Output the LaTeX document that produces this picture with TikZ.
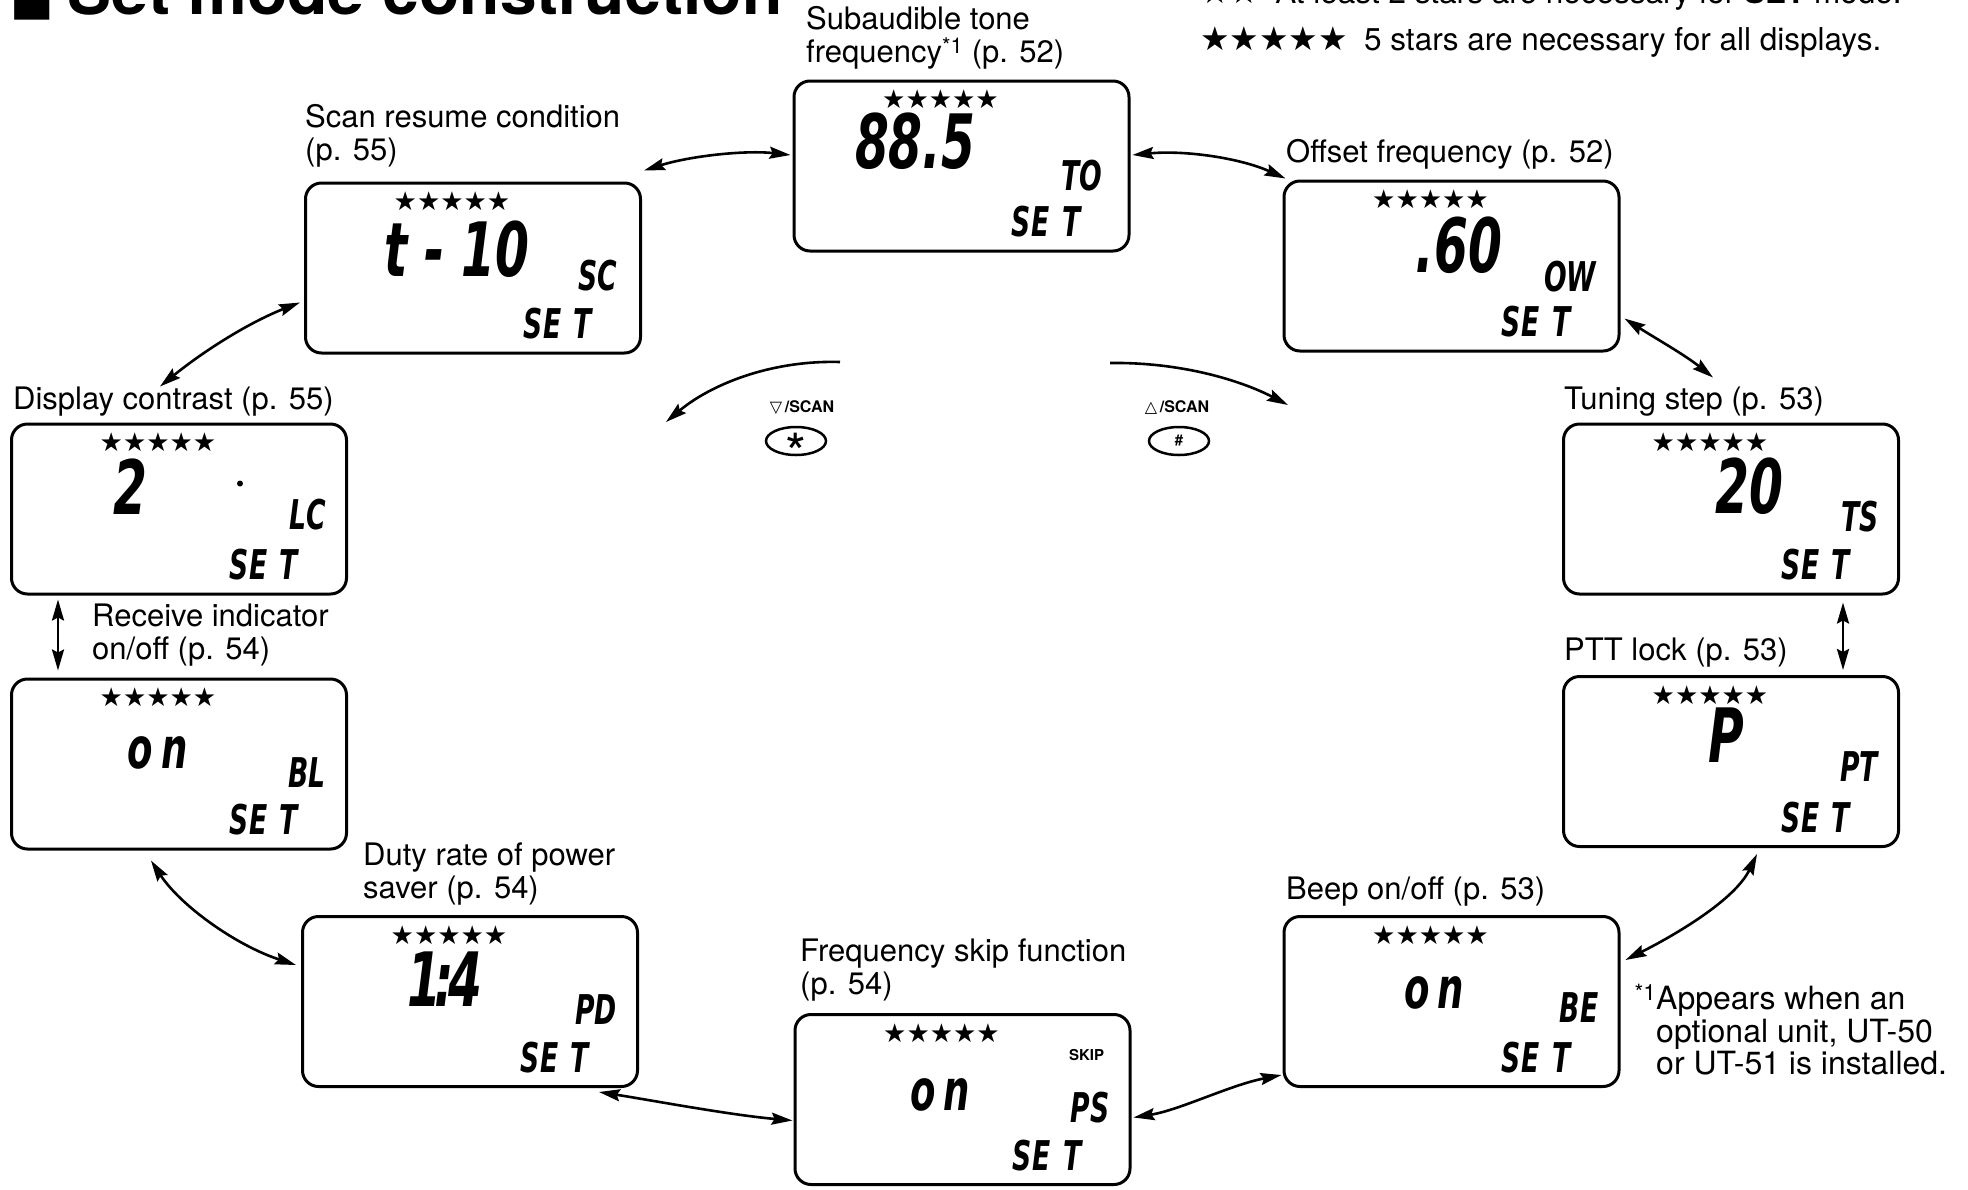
\documentclass[tikz,border=0pt]{standalone}
\usepackage{fontspec}
\setmainfont{TeX Gyre Heros}
\newfontfamily\djv{DejaVu Sans}
\newfontfamily\lcdfam{DejaVu Sans}[FakeStretch=0.65]
\usetikzlibrary{shapes.geometric,arrows.meta,calc}
\newcommand\lblfont{\fontsize{31pt}{33pt}\selectfont}
\newcommand\lcdbig{\lcdfam\bfseries\itshape\fontsize{75pt}{75pt}\selectfont}
\newcommand\lcdmid{\lcdfam\bfseries\itshape\fontsize{57pt}{57pt}\selectfont}
\newcommand\lcdsm{\lcdfam\bfseries\itshape\fontsize{41pt}{41pt}\selectfont}
\newcommand\starsfont{\djv\fontsize{26pt}{26pt}\selectfont}
\newcommand\panelstd[1]{%
  \node[starrow] (#1-st) at ($(#1.north west)+(148,20)$) {★★★★★};
  \node[setw] (#1-set) at ($(#1.north west)+(288,158)$) {S\kern1pt E\kern12pt T};
}
\tikzset{
  lcdbox/.style={draw, line width=3pt, rounded corners=16pt, minimum width=335pt, minimum height=170pt, inner sep=0pt},
  lbl/.style={font=\lblfont, anchor=west, inner sep=0pt, align=left},
  starrow/.style={font=\starsfont, inner sep=0pt},
  bigd/.style={font=\lcdbig, anchor=south east, inner sep=0pt},
  midd/.style={font=\lcdmid, anchor=south east, inner sep=0pt},
  lcdcode/.style={font=\lcdsm, anchor=south east, inner sep=0pt},
  setw/.style={font=\lcdsm, anchor=south east, inner sep=0pt},
  dbl/.style={line width=2.6pt, {Stealth[length=21pt,width=12pt,inset=3pt]}-{Stealth[length=21pt,width=12pt,inset=3pt]}},
  arcarrow/.style={line width=2.6pt, -{Stealth[length=21pt,width=12pt,inset=3pt]}},
  btn/.style={draw, ellipse, line width=2.5pt, minimum width=60pt, minimum height=28pt, inner sep=0pt},
  btnlbl/.style={font=\bfseries\fontsize{16pt}{16pt}\selectfont, inner sep=0pt},
}
\begin{document}
\begin{tikzpicture}[x=1pt,y=-1pt]
\useasboundingbox (0,0) rectangle (1968,1189);
\fill[white] (0,0) rectangle (1968,1189);
\clip (0,0) rectangle (1968,1189);

% title and notes (cut by the top edge)
\node[anchor=base west, inner sep=0pt, font=\bfseries\fontsize{66pt}{66pt}\selectfont] (title) at (10,14) {{\djv\fontsize{46pt}{46pt}\selectfont ■}\hspace{14pt}Set mode construction};
\node[anchor=base west, inner sep=0pt, font=\fontsize{31.5pt}{31.5pt}\selectfont] (note1) at (1200,3) {{\djv\fontsize{33pt}{33pt}\selectfont ★★}\hspace{16pt}At least 2 stars are necessary for \textbf{SET} mode.};
\node[anchor=base west, inner sep=0pt, font=\fontsize{31.5pt}{31.5pt}\selectfont] (note2) at (1200,50) {{\djv\fontsize{33pt}{33pt}\selectfont ★★★★★}\hspace{16pt}5 stars are necessary for all displays.};

% display boxes
\node[lcdbox] (to) at (961.5,166) {};
\node[lcdbox] (sc) at (473,268) {};
\node[lcdbox] (ow) at (1451.5,266) {};
\node[lcdbox] (ts) at (1731,509) {};
\node[lcdbox] (pt) at (1731,761.5) {};
\node[lcdbox] (lc) at (179,509) {};
\node[lcdbox] (bl) at (179,764) {};
\node[lcdbox] (pd) at (470,1001.5) {};
\node[lcdbox] (be) at (1451.5,1001.5) {};
\node[lcdbox] (ps) at (962.5,1099.5) {};

% labels
\node[lbl] (tol) at (806,38) {Subaudible tone\\frequency\textsuperscript{*1} (p. 52)};
\node[lbl] (scl) at (305,136) {Scan resume condition\\(p. 55)};
\node[lbl] (owl) at (1286,154) {Offset frequency (p. 52)};
\node[lbl] (lcl) at (13,402) {Display contrast (p. 55)};
\node[lbl] (tsl) at (1564,402) {Tuning step (p. 53)};
\node[lbl] (bll) at (92,635) {Receive indicator\\on/off (p. 54)};
\node[lbl] (ptl) at (1564,653) {PTT lock (p. 53)};
\node[lbl] (pdl) at (363,874.5) {Duty rate of power\\saver (p. 54)};
\node[lbl] (bel) at (1286,892) {Beep on/off (p. 53)};
\node[lbl] (psl) at (800,970) {Frequency skip function\\(p. 54)};
\node[lbl, font=\fontsize{32pt}{32.5pt}\selectfont] (fn) at (1656,1030) {\llap{\textsuperscript{*1}}Appears when an\\optional unit, UT-50\\or UT-51 is installed.};

% display contents
\panelstd{to}
\node[bigd] (to-v) at ($(to.north west)+(183,90)$) {88.5};
\node[lcdcode] (to-c) at ($(to.north west)+(310,112)$) {TO};
\panelstd{sc}
\node[bigd] (sc-v) at ($(sc.north west)+(226,96)$) {t - 10};
\node[lcdcode] (sc-c) at ($(sc.north west)+(313,110)$) {SC};
\panelstd{ow}
\node[bigd] (ow-v) at ($(ow.north west)+(220,94)$) {.60};
\node[lcdcode] (ow-c) at ($(ow.north west)+(314,113)$) {OW};
\panelstd{ts}
\node[bigd] (ts-v) at ($(ts.north west)+(222,92)$) {20};
\node[lcdcode] (ts-c) at ($(ts.north west)+(317,110)$) {TS};
\panelstd{lc}
\node[bigd] (lc-v) at ($(lc.north west)+(138,92)$) {2};
\node[circle, fill, inner sep=0pt, minimum size=6pt] (lc-dp) at ($(lc.north west)+(230,61)$) {};
\node[lcdcode] (lc-c) at ($(lc.north west)+(316,108)$) {LC};
\panelstd{bl}
\node[midd] (bl-v) at ($(bl.north west)+(178,92)$) {o\kern8pt n};
\node[lcdcode] (bl-c) at ($(bl.north west)+(316,110)$) {BL};
\panelstd{pt}
\node[bigd] (pt-v) at ($(pt.north west)+(182,88)$) {P};
\node[lcdcode] (pt-c) at ($(pt.north west)+(316,107)$) {PT};
\panelstd{pd}
\node[bigd] (pd-v) at ($(pd.north west)+(182,92)$) {1\kern-7pt:\kern-5pt 4};
\node[lcdcode] (pd-c) at ($(pd.north west)+(316,110)$) {PD};
\panelstd{be}
\node[midd] (be-v) at ($(be.north west)+(182,94)$) {o\kern8pt n};
\node[lcdcode] (be-c) at ($(be.north west)+(316,108)$) {BE};
\panelstd{ps}
\node[midd] (ps-v) at ($(ps.north west)+(177,98)$) {o\kern8pt n};
\node[font=\bfseries\fontsize{15pt}{15pt}\selectfont, inner sep=0pt] (ps-skip) at ($(ps.north west)+(293,42)$) {SKIP};
\node[lcdcode] (ps-c) at ($(ps.north west)+(316,110)$) {PS};

% connectors between displays
\draw[dbl] ($(sc.north east)+(2,-11)$) .. controls (690,156) and (745,150) .. ($(to.west)+(-2,-11)$);
\draw[dbl] ($(to.east)+(2,-11)$) .. controls (1185,150) and (1240,158) .. ($(ow.north west)+(3,-1)$);
\draw[dbl] ($(ow.south east)+(4,-34)$) .. controls (1655,338) and (1685,355) .. ($(ts.north)+(-18,-45)$);
\draw[dbl] ($(ts.south)+(112,7)$) -- ($(pt.north)+(112,-5)$);
\draw[dbl] ($(pt.south)+(26,6)$) .. controls (1735,900) and (1675,935) .. ($(be.north east)+(5,45)$);
\draw[dbl] ($(be.south west)+(-1,-13)$) .. controls (1230,1085) and (1180,1110) .. ($(ps.east)+(2,18)$);
\draw[dbl] ($(ps.west)+(-1,21)$) .. controls (730,1115) and (650,1100) .. ($(pd.south east)+(-40,4)$);
\draw[dbl] ($(pd.north west)+(-5,50)$) .. controls (235,945) and (180,905) .. ($(bl.south)+(-28,10)$);
\draw[dbl] ($(lc.south west)+(48,4)$) -- ($(bl.north west)+(48,-7)$);
\draw[dbl] ($(lc.north)+(-19,-36)$) .. controls (205,350) and (250,322) .. ($(sc.south west)+(-4,-52)$);

% scan keys
\coordinate (la) at (840,362);
\coordinate (lb) at (666,422);
\draw[arcarrow] (la) .. controls (770,360) and (710,385) .. (lb);
\coordinate (ra) at (1110,363);
\coordinate (rb) at (1288,405);
\draw[arcarrow] (ra) .. controls (1180,362) and (1240,380) .. (rb);
\node[btnlbl] (dn) at (802,408) {{\djv ▽}\,/SCAN};
\node[btn] (bstar) at (796,441) {};
\node[font=\fontsize{54pt}{54pt}\selectfont, inner sep=0pt] (bstar-s) at ($(bstar.center)+(0,11.5)$) {*};
\node[btnlbl] (up) at (1177,408) {{\djv △}\,/SCAN};
\node[btn, font=\bfseries\fontsize{15pt}{15pt}\selectfont] (bhash) at (1179,441) {\#};
\end{tikzpicture}
\end{document}
